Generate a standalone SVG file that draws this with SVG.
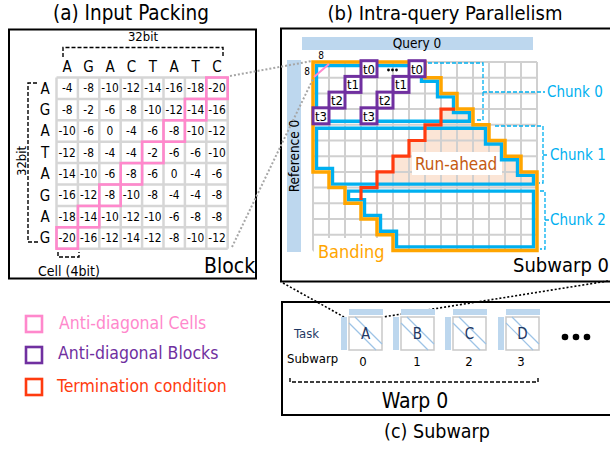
<svg xmlns="http://www.w3.org/2000/svg" width="610" height="450" viewBox="0 0 610 450">
<defs>
<style>
text{font-family:'DejaVu Sans Condensed','DejaVu Sans','Liberation Sans',sans-serif;fill:#000}
.frame{fill:none;stroke:#000;stroke-width:2}
.dash{fill:none;stroke:#000;stroke-width:1.4;stroke-dasharray:4 2}
.cdash{fill:none;stroke:#00B0F0;stroke-width:1.3;stroke-dasharray:4 2}
.ga{stroke:#d6d6d6;stroke-width:2.5}
.gb{stroke:#d0d0d0;stroke-width:2}
.num{font-size:11.8px;text-anchor:middle}
.hdr{font-size:15px;text-anchor:middle}
.pink{fill:none;stroke:#FF88CC;stroke-width:2.6}
.blk rect{fill:#fff;stroke:#7030A0;stroke-width:3}
.blk text{font-size:13px;text-anchor:middle}
.chunk{fill:none;stroke:#00B0F0;stroke-width:3.4}
.clab{font-size:15px;fill:#00B0F0}
.bar{fill:#BDD7EE}
.task rect.sq{fill:#fff;stroke:#c9c9c9;stroke-width:1.5}
.task line{stroke:#9DC3E6;stroke-width:1.2}
.task text.l{font-size:15px;text-anchor:middle;fill:#1F3864}
.task text.n{font-size:13px;text-anchor:middle}
</style>
</defs>
<rect width="610" height="450" fill="#fff"/>

<!-- Panel (a) -->
<g id="panel-a">
<text x="131" y="19.5" font-size="20.5" text-anchor="middle">(a) Input Packing</text>
<rect class="frame" x="9" y="29.5" width="247" height="249"/>
<text x="143" y="41" font-size="13" text-anchor="middle">32bit</text>
<path class="dash" d="M63,57 V47.5 H223 V57"/>
<path class="dash" d="M37,83 H28 V242 H40"/>
<text transform="translate(26,161) rotate(-90)" font-size="13" text-anchor="middle">32bit</text>
<g class="hdr">
<text y="72"><tspan x="67.2">A</tspan><tspan x="88.6">G</tspan><tspan x="110">A</tspan><tspan x="131.4">C</tspan><tspan x="152.8">T</tspan><tspan x="174.2">A</tspan><tspan x="195.6">T</tspan><tspan x="217">C</tspan></text>
<text x="45" y="93.5">A</text><text x="45" y="114.9">G</text><text x="45" y="136.3">A</text><text x="45" y="157.7">T</text>
<text x="45" y="179.1">A</text><text x="45" y="200.5">G</text><text x="45" y="221.9">A</text><text x="45" y="243.3">G</text>
</g>
<g id="grid-a">
<line class="ga" x1="56.5" y1="77.5" x2="56.5" y2="248.7"/><line class="ga" x1="77.9" y1="77.5" x2="77.9" y2="248.7"/>
<line class="ga" x1="99.3" y1="77.5" x2="99.3" y2="248.7"/><line class="ga" x1="120.7" y1="77.5" x2="120.7" y2="248.7"/>
<line class="ga" x1="142.1" y1="77.5" x2="142.1" y2="248.7"/><line class="ga" x1="163.5" y1="77.5" x2="163.5" y2="248.7"/>
<line class="ga" x1="184.9" y1="77.5" x2="184.9" y2="248.7"/><line class="ga" x1="206.3" y1="77.5" x2="206.3" y2="248.7"/>
<line class="ga" x1="227.7" y1="77.5" x2="227.7" y2="248.7"/>
<line class="ga" x1="56.5" y1="77.5" x2="227.7" y2="77.5"/><line class="ga" x1="56.5" y1="98.9" x2="227.7" y2="98.9"/>
<line class="ga" x1="56.5" y1="120.3" x2="227.7" y2="120.3"/><line class="ga" x1="56.5" y1="141.7" x2="227.7" y2="141.7"/>
<line class="ga" x1="56.5" y1="163.1" x2="227.7" y2="163.1"/><line class="ga" x1="56.5" y1="184.5" x2="227.7" y2="184.5"/>
<line class="ga" x1="56.5" y1="205.9" x2="227.7" y2="205.9"/><line class="ga" x1="56.5" y1="227.3" x2="227.7" y2="227.3"/>
<line class="ga" x1="56.5" y1="248.7" x2="227.7" y2="248.7"/>
</g>
<g id="anti-diag-cells">
<rect class="pink" x="206.3" y="77.5" width="21.4" height="21.4"/>
<rect class="pink" x="184.9" y="98.9" width="21.4" height="21.4"/>
<rect class="pink" x="163.5" y="120.3" width="21.4" height="21.4"/>
<rect class="pink" x="142.1" y="141.7" width="21.4" height="21.4"/>
<rect class="pink" x="120.7" y="163.1" width="21.4" height="21.4"/>
<rect class="pink" x="99.3" y="184.5" width="21.4" height="21.4"/>
<rect class="pink" x="77.9" y="205.9" width="21.4" height="21.4"/>
<rect class="pink" x="56.5" y="227.3" width="21.4" height="21.4"/>
</g>
<g class="num">
<text y="92.3"><tspan x="67.2">-4</tspan><tspan x="88.6">-8</tspan><tspan x="110">-10</tspan><tspan x="131.4">-12</tspan><tspan x="152.8">-14</tspan><tspan x="174.2">-16</tspan><tspan x="195.6">-18</tspan><tspan x="217">-20</tspan></text>
<text y="113.7"><tspan x="67.2">-8</tspan><tspan x="88.6">-2</tspan><tspan x="110">-6</tspan><tspan x="131.4">-8</tspan><tspan x="152.8">-10</tspan><tspan x="174.2">-12</tspan><tspan x="195.6">-14</tspan><tspan x="217">-16</tspan></text>
<text y="135.1"><tspan x="67.2">-10</tspan><tspan x="88.6">-6</tspan><tspan x="110">0</tspan><tspan x="131.4">-4</tspan><tspan x="152.8">-6</tspan><tspan x="174.2">-8</tspan><tspan x="195.6">-10</tspan><tspan x="217">-12</tspan></text>
<text y="156.5"><tspan x="67.2">-12</tspan><tspan x="88.6">-8</tspan><tspan x="110">-4</tspan><tspan x="131.4">-4</tspan><tspan x="152.8">-2</tspan><tspan x="174.2">-6</tspan><tspan x="195.6">-6</tspan><tspan x="217">-10</tspan></text>
<text y="177.9"><tspan x="67.2">-14</tspan><tspan x="88.6">-10</tspan><tspan x="110">-6</tspan><tspan x="131.4">-8</tspan><tspan x="152.8">-6</tspan><tspan x="174.2">0</tspan><tspan x="195.6">-4</tspan><tspan x="217">-6</tspan></text>
<text y="199.3"><tspan x="67.2">-16</tspan><tspan x="88.6">-12</tspan><tspan x="110">-8</tspan><tspan x="131.4">-10</tspan><tspan x="152.8">-8</tspan><tspan x="174.2">-4</tspan><tspan x="195.6">-4</tspan><tspan x="217">-8</tspan></text>
<text y="220.7"><tspan x="67.2">-18</tspan><tspan x="88.6">-14</tspan><tspan x="110">-10</tspan><tspan x="131.4">-12</tspan><tspan x="152.8">-10</tspan><tspan x="174.2">-6</tspan><tspan x="195.6">-8</tspan><tspan x="217">-8</tspan></text>
<text y="242.1"><tspan x="67.2">-20</tspan><tspan x="88.6">-16</tspan><tspan x="110">-12</tspan><tspan x="131.4">-14</tspan><tspan x="152.8">-12</tspan><tspan x="174.2">-8</tspan><tspan x="195.6">-10</tspan><tspan x="217">-12</tspan></text>
</g>
<path class="dash" d="M58,252 V257 H79 V252"/>
<text x="38" y="276" font-size="14">Cell (4bit)</text>
<text x="204" y="273" font-size="21">Block</text>
</g>

<!-- Legend -->
<g id="legend">
<rect x="26" y="316" width="16" height="16" fill="none" stroke="#FF88CC" stroke-width="2.6"/>
<text x="59" y="329" font-size="17.5" style="fill:#FF88CC">Anti-diagonal Cells</text>
<rect x="26" y="347" width="16" height="16" fill="none" stroke="#7030A0" stroke-width="2.6"/>
<text x="58" y="359" font-size="17.5" style="fill:#7030A0">Anti-diagonal Blocks</text>
<rect x="26" y="379" width="16" height="16" fill="none" stroke="#FF3B0F" stroke-width="2.6"/>
<text x="57" y="392" font-size="17.5" style="fill:#FF3B0F">Termination condition</text>
</g>

<!-- Panel (b) -->
<g id="panel-b">
<text x="445" y="19.5" font-size="20" text-anchor="middle">(b) Intra-query Parallelism</text>
<rect class="frame" x="281" y="28.5" width="332" height="253"/>
<rect class="bar" x="302" y="37" width="231" height="13"/>
<text x="417" y="48" font-size="13.5" text-anchor="middle">Query 0</text>
<rect class="bar" x="287" y="60" width="14" height="192"/>
<text transform="translate(298.5,156) rotate(-90)" font-size="13.5" text-anchor="middle">Reference 0</text>
<path id="runahead-fill" d="M441,109.1 H473 V124.8 H489 V140.5 H505 V156.2 H521 V171.9 H537 V187.6 H377 V171.9 H393 V156.2 H409 V140.5 H425 V124.8 H441 Z" fill="#FBE5D6"/>
<g id="grid-b">
<line class="gb" x1="313" y1="62" x2="313" y2="250.4"/><line class="gb" x1="329" y1="62" x2="329" y2="250.4"/>
<line class="gb" x1="345" y1="62" x2="345" y2="250.4"/><line class="gb" x1="361" y1="62" x2="361" y2="250.4"/>
<line class="gb" x1="377" y1="62" x2="377" y2="250.4"/><line class="gb" x1="393" y1="62" x2="393" y2="250.4"/>
<line class="gb" x1="409" y1="62" x2="409" y2="250.4"/><line class="gb" x1="425" y1="62" x2="425" y2="250.4"/>
<line class="gb" x1="441" y1="62" x2="441" y2="250.4"/><line class="gb" x1="457" y1="62" x2="457" y2="250.4"/>
<line class="gb" x1="473" y1="62" x2="473" y2="250.4"/><line class="gb" x1="489" y1="62" x2="489" y2="250.4"/>
<line class="gb" x1="505" y1="62" x2="505" y2="250.4"/><line class="gb" x1="521" y1="62" x2="521" y2="250.4"/>
<line class="gb" x1="537" y1="62" x2="537" y2="250.4"/>
<line class="gb" x1="313" y1="62" x2="537" y2="62"/><line class="gb" x1="313" y1="77.7" x2="537" y2="77.7"/>
<line class="gb" x1="313" y1="93.4" x2="537" y2="93.4"/><line class="gb" x1="313" y1="109.1" x2="537" y2="109.1"/>
<line class="gb" x1="313" y1="124.8" x2="537" y2="124.8"/><line class="gb" x1="313" y1="140.5" x2="537" y2="140.5"/>
<line class="gb" x1="313" y1="156.2" x2="537" y2="156.2"/><line class="gb" x1="313" y1="171.9" x2="537" y2="171.9"/>
<line class="gb" x1="313" y1="187.6" x2="537" y2="187.6"/><line class="gb" x1="313" y1="203.3" x2="537" y2="203.3"/>
<line class="gb" x1="313" y1="219" x2="537" y2="219"/><line class="gb" x1="313" y1="234.7" x2="537" y2="234.7"/>
<line class="gb" x1="313" y1="250.4" x2="537" y2="250.4"/>
</g>
<rect x="412" y="152" width="90" height="23" fill="#fff"/>
<text x="415" y="170" font-size="17" style="fill:#C55A11">Run-ahead</text>
<rect x="314" y="238" width="78" height="28" fill="#fff"/>
<text x="318" y="258" font-size="18" style="fill:#FFA500">Banding</text>
<g id="chunks">
<path class="chunk" d="M316.5,65.5 H421.5 V81.2 H437.5 V96.9 H453.5 V112.6 H469.5 V121.3 H316.5 Z"/>
<path class="chunk" d="M316.5,128.3 H485.5 V144 H501.5 V159.7 H517.5 V175.4 H533.5 V184.1 H332.5 V168.4 H316.5 Z"/>
<path class="chunk" d="M348.5,191.1 H533.5 V246.9 H396.5 V231.2 H380.5 V215.5 H364.5 V199.8 H348.5 Z"/>
</g>
<path id="banding" d="M313,62 H425 V77.7 H441 V93.4 H457 V109.1 H473 V124.8 H489 V140.5 H505 V156.2 H521 V171.9 H537 V250.4 H393 V234.7 H377 V219 H361 V203.3 H345 V187.6 H329 V171.9 H313 Z" fill="none" stroke="#FFA500" stroke-width="3.5"/>
<path id="termination" d="M361,200 V187.6 H377 V171.9 H393 V156.2 H409 V140.5 H425 V124.8 H441 V109.1 H455" fill="none" stroke="#FF3B0F" stroke-width="3.2"/>
<line x1="314" y1="77" x2="329" y2="64" stroke="#FF88CC" stroke-width="2"/>
<text x="321" y="59" font-size="10" text-anchor="middle">8</text>
<text x="307" y="75" font-size="10" text-anchor="middle">8</text>
<g id="blocks" class="blk">
<g id="b-t0a"><rect x="361" y="60.7" width="16" height="16"/><text x="369" y="73.5">t0</text></g>
<g id="b-t1a"><rect x="345" y="76.4" width="16" height="16"/><text x="353" y="89.2">t1</text></g>
<g id="b-t2a"><rect x="329" y="92.1" width="16" height="16"/><text x="337" y="104.9">t2</text></g>
<g id="b-t3a"><rect x="313" y="107.8" width="16" height="16"/><text x="321" y="120.6">t3</text></g>
<g id="b-t0b"><rect x="409" y="60.7" width="16" height="16"/><text x="417" y="73.5">t0</text></g>
<g id="b-t1b"><rect x="393" y="76.4" width="16" height="16"/><text x="401" y="89.2">t1</text></g>
<g id="b-t2b"><rect x="377" y="92.1" width="16" height="16"/><text x="385" y="104.9">t2</text></g>
<g id="b-t3b"><rect x="361" y="107.8" width="16" height="16"/><text x="369" y="120.6">t3</text></g>
</g>
<circle cx="388.5" cy="70" r="1.4"/><circle cx="392.5" cy="70" r="1.4"/><circle cx="396.5" cy="70" r="1.4"/>
<g id="chunk-labels">
<path class="cdash" d="M428,63 H483 V120 H475 M483,92 H545"/>
<text class="clab" x="547" y="97" style="fill:#00B0F0">Chunk 0</text>
<path class="cdash" d="M495,126 H543 V183 H539 M543,155 H548"/>
<text class="clab" x="550" y="160" style="fill:#00B0F0">Chunk 1</text>
<path class="cdash" d="M540,191 H545 V249 H540 M545,220 H549"/>
<text class="clab" x="550" y="225" style="fill:#00B0F0">Chunk 2</text>
</g>
<text x="513" y="272" font-size="20">Subwarp 0</text>
</g>

<!-- Connectors -->
<g id="connectors">
<path d="M230,76 L312,61 M232,247 L313,79" fill="none" stroke="#A6A6A6" stroke-width="2" stroke-dasharray="2 2"/>
<path d="M283,283 L344,317 M608,281 L383,317" fill="none" stroke="#000" stroke-width="1.6" stroke-dasharray="2 2"/>
</g>

<!-- Panel (c) -->
<g id="panel-c">
<rect class="frame" x="282" y="302" width="332" height="113"/>
<text x="294" y="338" font-size="13" style="fill:#1F3864">Task</text>
<text x="287" y="363" font-size="13">Subwarp</text>
<g class="task" id="task-a">
<rect class="bar" x="349" y="309" width="34" height="6"/><rect class="bar" x="341" y="317" width="6" height="33"/>
<rect class="sq" x="349" y="317" width="33" height="33"/>
<line x1="349" y1="323" x2="376" y2="350"/><line x1="355" y1="317" x2="382" y2="344"/>
<text class="l" x="365.5" y="339">A</text><text class="n" x="363" y="366">0</text>
</g>
<g class="task" id="task-b">
<rect class="bar" x="401" y="309" width="34" height="6"/><rect class="bar" x="393" y="317" width="6" height="33"/>
<rect class="sq" x="401" y="317" width="33" height="33"/>
<line x1="401" y1="323" x2="428" y2="350"/><line x1="407" y1="317" x2="434" y2="344"/>
<text class="l" x="417.5" y="339">B</text><text class="n" x="417" y="366">1</text>
</g>
<g class="task" id="task-c">
<rect class="bar" x="453" y="309" width="34" height="6"/><rect class="bar" x="445" y="317" width="6" height="33"/>
<rect class="sq" x="453" y="317" width="33" height="33"/>
<line x1="453" y1="323" x2="480" y2="350"/><line x1="459" y1="317" x2="486" y2="344"/>
<text class="l" x="469.5" y="339">C</text><text class="n" x="469" y="366">2</text>
</g>
<g class="task" id="task-d">
<rect class="bar" x="506" y="309" width="34" height="6"/><rect class="bar" x="498" y="317" width="6" height="33"/>
<rect class="sq" x="506" y="317" width="33" height="33"/>
<line x1="506" y1="323" x2="533" y2="350"/><line x1="512" y1="317" x2="539" y2="344"/>
<text class="l" x="522.5" y="339">D</text><text class="n" x="521" y="366">3</text>
</g>
<circle cx="565" cy="337" r="3.3"/><circle cx="576" cy="337" r="3.3"/><circle cx="587" cy="337" r="3.3"/>
<path class="dash" d="M290,378 V382 H538 V378"/>
<text x="415" y="408" font-size="21" text-anchor="middle">Warp 0</text>
<text x="437" y="438" font-size="19.5" text-anchor="middle">(c) Subwarp</text>
</g>
</svg>
